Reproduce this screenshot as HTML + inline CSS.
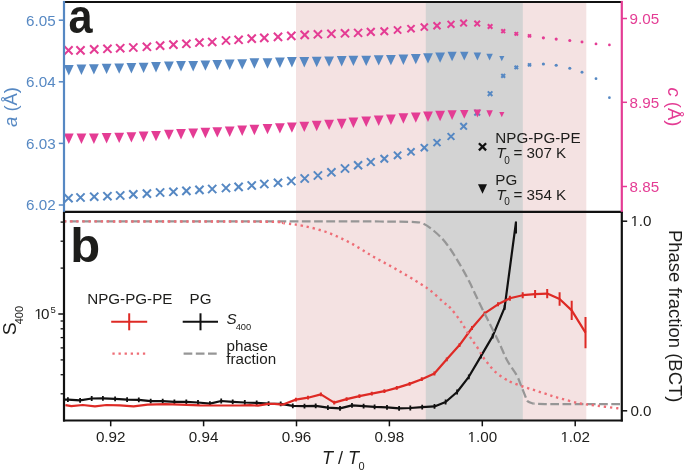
<!DOCTYPE html>
<html><head><meta charset="utf-8"><title>Lattice parameters and S400 vs T/T0</title>
<style>
html,body{margin:0;padding:0;background:#fff;}
body{width:685px;height:471px;overflow:hidden;}
svg{display:block;font-family:"Liberation Sans",sans-serif;will-change:transform;}
</style></head><body>
<svg width="685" height="471" viewBox="0 0 685 471">
<defs>
<clipPath id="ca"><rect x="64.0" y="1.9" width="557.8" height="210.0"/></clipPath>
<clipPath id="cb"><rect x="64.0" y="211.9" width="557.8" height="208.6"/></clipPath>
</defs>
<rect x="296" y="1.9" width="290.3" height="418.6" fill="#f4e2e2"/>
<rect x="425.8" y="1.9" width="97" height="418.6" fill="#d3d3d3"/>
<g clip-path="url(#ca)">
<path d="M64.40 46.30L72.60 54.50M64.40 54.50L72.60 46.30" stroke="#e43c94" stroke-width="2.05" fill="none"/>
<path d="M76.40 46.30L84.60 54.50M76.40 54.50L84.60 46.30" stroke="#e43c94" stroke-width="2.05" fill="none"/>
<path d="M90.10 45.30L98.30 53.50M90.10 53.50L98.30 45.30" stroke="#e43c94" stroke-width="2.05" fill="none"/>
<path d="M103.35 44.70L111.55 52.90M103.35 52.90L111.55 44.70" stroke="#e43c94" stroke-width="2.05" fill="none"/>
<path d="M116.10 44.10L124.30 52.30M116.10 52.30L124.30 44.10" stroke="#e43c94" stroke-width="2.05" fill="none"/>
<path d="M129.20 43.40L137.40 51.60M129.20 51.60L137.40 43.40" stroke="#e43c94" stroke-width="2.05" fill="none"/>
<path d="M142.80 42.70L151.00 50.90M142.80 50.90L151.00 42.70" stroke="#e43c94" stroke-width="2.05" fill="none"/>
<path d="M156.00 41.50L164.20 49.70M156.00 49.70L164.20 41.50" stroke="#e43c94" stroke-width="2.05" fill="none"/>
<path d="M169.30 40.50L177.50 48.70M169.30 48.70L177.50 40.50" stroke="#e43c94" stroke-width="2.05" fill="none"/>
<path d="M182.30 39.70L190.50 47.90M182.30 47.90L190.50 39.70" stroke="#e43c94" stroke-width="2.05" fill="none"/>
<path d="M195.35 38.45L203.55 46.65M195.35 46.65L203.55 38.45" stroke="#e43c94" stroke-width="2.05" fill="none"/>
<path d="M208.10 37.85L216.30 46.05M208.10 46.05L216.30 37.85" stroke="#e43c94" stroke-width="2.05" fill="none"/>
<path d="M221.90 36.40L230.10 44.60M221.90 44.60L230.10 36.40" stroke="#e43c94" stroke-width="2.05" fill="none"/>
<path d="M234.50 35.70L242.70 43.90M234.50 43.90L242.70 35.70" stroke="#e43c94" stroke-width="2.05" fill="none"/>
<path d="M247.60 34.50L255.80 42.70M247.60 42.70L255.80 34.50" stroke="#e43c94" stroke-width="2.05" fill="none"/>
<path d="M260.20 33.80L268.40 42.00M260.20 42.00L268.40 33.80" stroke="#e43c94" stroke-width="2.05" fill="none"/>
<path d="M273.90 32.80L282.10 41.00M273.90 41.00L282.10 32.80" stroke="#e43c94" stroke-width="2.05" fill="none"/>
<path d="M287.20 31.80L295.40 40.00M287.20 40.00L295.40 31.80" stroke="#e43c94" stroke-width="2.05" fill="none"/>
<path d="M300.60 30.80L308.80 39.00M300.60 39.00L308.80 30.80" stroke="#e43c94" stroke-width="2.05" fill="none"/>
<path d="M313.80 30.20L322.00 38.40M313.80 38.40L322.00 30.20" stroke="#e43c94" stroke-width="2.05" fill="none"/>
<path d="M327.30 29.70L335.50 37.90M327.30 37.90L335.50 29.70" stroke="#e43c94" stroke-width="2.05" fill="none"/>
<path d="M340.90 29.20L349.10 37.40M340.90 37.40L349.10 29.20" stroke="#e43c94" stroke-width="2.05" fill="none"/>
<path d="M354.10 28.90L362.10 36.90M354.10 36.90L362.10 28.90" stroke="#e43c94" stroke-width="2.05" fill="none"/>
<path d="M366.90 28.00L374.70 35.80M366.90 35.80L374.70 28.00" stroke="#e43c94" stroke-width="2.05" fill="none"/>
<path d="M380.55 27.45L388.05 34.95M380.55 34.95L388.05 27.45" stroke="#e43c94" stroke-width="2.05" fill="none"/>
<path d="M393.95 26.35L401.25 33.65M393.95 33.65L401.25 26.35" stroke="#e43c94" stroke-width="2.05" fill="none"/>
<path d="M407.40 25.10L414.60 32.30M407.40 32.30L414.60 25.10" stroke="#e43c94" stroke-width="2.05" fill="none"/>
<path d="M420.75 23.55L427.85 30.65M420.75 30.65L427.85 23.55" stroke="#e43c94" stroke-width="2.05" fill="none"/>
<path d="M433.50 22.30L440.50 29.30M433.50 29.30L440.50 22.30" stroke="#e43c94" stroke-width="2.05" fill="none"/>
<path d="M447.60 20.90L454.40 27.70M447.60 27.70L454.40 20.90" stroke="#e43c94" stroke-width="2.05" fill="none"/>
<path d="M460.30 19.80L466.90 26.40M460.30 26.40L466.90 19.80" stroke="#e43c94" stroke-width="2.05" fill="none"/>
<path d="M474.40 20.80L480.00 26.40M474.40 26.40L480.00 20.80" stroke="#e43c94" stroke-width="2.05" fill="none"/>
<path d="M487.80 24.20L492.40 28.80M487.80 28.80L492.40 24.20" stroke="#e43c94" stroke-width="2.05" fill="none"/>
<path d="M501.30 29.30L505.10 33.10M501.30 33.10L505.10 29.30" stroke="#e43c94" stroke-width="2.05" fill="none"/>
<path d="M514.60 32.10L518.00 35.50M514.60 35.50L518.00 32.10" stroke="#e43c94" stroke-width="2.05" fill="none"/>
<path d="M528.00 34.40L531.00 37.40M528.00 37.40L531.00 34.40" stroke="#e43c94" stroke-width="2.05" fill="none"/>
<circle cx="543.40" cy="37.80" r="1.59" fill="#e43c94"/>
<circle cx="556.20" cy="39.10" r="1.57" fill="#e43c94"/>
<circle cx="569.80" cy="40.50" r="1.53" fill="#e43c94"/>
<circle cx="582.00" cy="42.00" r="1.47" fill="#e43c94"/>
<circle cx="596.00" cy="43.90" r="1.41" fill="#e43c94"/>
<circle cx="609.40" cy="44.90" r="1.35" fill="#e43c94"/>
<path d="M63.90 65.10L73.70 65.10L68.80 75.50Z" fill="#5688c3"/>
<path d="M76.55 64.55L86.35 64.55L81.45 74.95Z" fill="#5688c3"/>
<path d="M89.00 64.20L98.80 64.20L93.90 74.60Z" fill="#5688c3"/>
<path d="M101.70 63.70L111.50 63.70L106.60 74.10Z" fill="#5688c3"/>
<path d="M114.30 63.40L124.10 63.40L119.20 73.80Z" fill="#5688c3"/>
<path d="M126.50 63.10L136.30 63.10L131.40 73.50Z" fill="#5688c3"/>
<path d="M138.70 62.70L148.50 62.70L143.60 73.10Z" fill="#5688c3"/>
<path d="M151.10 62.00L160.90 62.00L156.00 72.40Z" fill="#5688c3"/>
<path d="M164.00 61.40L173.80 61.40L168.90 71.80Z" fill="#5688c3"/>
<path d="M176.10 61.10L185.90 61.10L181.00 71.50Z" fill="#5688c3"/>
<path d="M188.30 61.00L198.10 61.00L193.20 71.40Z" fill="#5688c3"/>
<path d="M200.50 60.40L210.30 60.40L205.40 70.80Z" fill="#5688c3"/>
<path d="M212.40 59.90L222.20 59.90L217.30 70.30Z" fill="#5688c3"/>
<path d="M224.80 59.60L234.60 59.60L229.70 70.00Z" fill="#5688c3"/>
<path d="M237.30 59.20L247.10 59.20L242.20 69.60Z" fill="#5688c3"/>
<path d="M249.50 58.30L259.30 58.30L254.40 68.70Z" fill="#5688c3"/>
<path d="M262.60 58.30L272.40 58.30L267.50 68.70Z" fill="#5688c3"/>
<path d="M275.00 57.50L284.80 57.50L279.90 67.90Z" fill="#5688c3"/>
<path d="M287.00 57.10L296.80 57.10L291.90 67.50Z" fill="#5688c3"/>
<path d="M299.40 57.10L309.20 57.10L304.30 67.50Z" fill="#5688c3"/>
<path d="M311.80 56.80L321.60 56.80L316.70 67.20Z" fill="#5688c3"/>
<path d="M324.20 56.40L334.00 56.40L329.10 66.80Z" fill="#5688c3"/>
<path d="M336.80 56.10L346.60 56.10L341.70 66.50Z" fill="#5688c3"/>
<path d="M348.50 55.70L358.30 55.70L353.40 66.10Z" fill="#5688c3"/>
<path d="M361.30 55.70L371.10 55.70L366.20 66.10Z" fill="#5688c3"/>
<path d="M373.80 55.20L383.60 55.20L378.70 65.60Z" fill="#5688c3"/>
<path d="M386.00 54.90L395.80 54.90L390.90 65.30Z" fill="#5688c3"/>
<path d="M398.50 54.50L408.30 54.50L403.40 64.90Z" fill="#5688c3"/>
<path d="M410.90 53.90L420.70 53.90L415.80 64.30Z" fill="#5688c3"/>
<path d="M423.10 53.20L432.90 53.20L428.00 63.60Z" fill="#5688c3"/>
<path d="M435.20 52.40L445.00 52.40L440.10 62.80Z" fill="#5688c3"/>
<path d="M447.54 51.66L456.66 51.66L452.10 61.34Z" fill="#5688c3"/>
<path d="M460.09 51.63L468.51 51.63L464.30 60.57Z" fill="#5688c3"/>
<path d="M473.63 52.40L481.17 52.40L477.40 60.40Z" fill="#5688c3"/>
<path d="M486.37 53.67L492.83 53.67L489.60 60.53Z" fill="#5688c3"/>
<path d="M499.25 55.90L504.35 55.90L501.80 61.30Z" fill="#5688c3"/>
<path d="M64.40 194.10L72.60 202.30M64.40 202.30L72.60 194.10" stroke="#5688c3" stroke-width="2.05" fill="none"/>
<path d="M76.40 193.40L84.60 201.60M76.40 201.60L84.60 193.40" stroke="#5688c3" stroke-width="2.05" fill="none"/>
<path d="M90.10 192.60L98.30 200.80M90.10 200.80L98.30 192.60" stroke="#5688c3" stroke-width="2.05" fill="none"/>
<path d="M103.35 192.10L111.55 200.30M103.35 200.30L111.55 192.10" stroke="#5688c3" stroke-width="2.05" fill="none"/>
<path d="M116.10 191.40L124.30 199.60M116.10 199.60L124.30 191.40" stroke="#5688c3" stroke-width="2.05" fill="none"/>
<path d="M129.20 190.30L137.40 198.50M129.20 198.50L137.40 190.30" stroke="#5688c3" stroke-width="2.05" fill="none"/>
<path d="M142.80 189.50L151.00 197.70M142.80 197.70L151.00 189.50" stroke="#5688c3" stroke-width="2.05" fill="none"/>
<path d="M156.00 188.40L164.20 196.60M156.00 196.60L164.20 188.40" stroke="#5688c3" stroke-width="2.05" fill="none"/>
<path d="M169.30 187.70L177.50 195.90M169.30 195.90L177.50 187.70" stroke="#5688c3" stroke-width="2.05" fill="none"/>
<path d="M182.30 186.80L190.50 195.00M182.30 195.00L190.50 186.80" stroke="#5688c3" stroke-width="2.05" fill="none"/>
<path d="M195.35 185.80L203.55 194.00M195.35 194.00L203.55 185.80" stroke="#5688c3" stroke-width="2.05" fill="none"/>
<path d="M208.10 184.90L216.30 193.10M208.10 193.10L216.30 184.90" stroke="#5688c3" stroke-width="2.05" fill="none"/>
<path d="M221.90 183.90L230.10 192.10M221.90 192.10L230.10 183.90" stroke="#5688c3" stroke-width="2.05" fill="none"/>
<path d="M234.50 182.80L242.70 191.00M234.50 191.00L242.70 182.80" stroke="#5688c3" stroke-width="2.05" fill="none"/>
<path d="M247.60 181.40L255.80 189.60M247.60 189.60L255.80 181.40" stroke="#5688c3" stroke-width="2.05" fill="none"/>
<path d="M260.20 179.90L268.40 188.10M260.20 188.10L268.40 179.90" stroke="#5688c3" stroke-width="2.05" fill="none"/>
<path d="M273.90 178.70L282.10 186.90M273.90 186.90L282.10 178.70" stroke="#5688c3" stroke-width="2.05" fill="none"/>
<path d="M287.20 176.90L295.40 185.10M287.20 185.10L295.40 176.90" stroke="#5688c3" stroke-width="2.05" fill="none"/>
<path d="M300.60 174.40L308.80 182.60M300.60 182.60L308.80 174.40" stroke="#5688c3" stroke-width="2.05" fill="none"/>
<path d="M313.80 171.40L322.00 179.60M313.80 179.60L322.00 171.40" stroke="#5688c3" stroke-width="2.05" fill="none"/>
<path d="M327.30 168.20L335.50 176.40M327.30 176.40L335.50 168.20" stroke="#5688c3" stroke-width="2.05" fill="none"/>
<path d="M340.90 164.40L349.10 172.60M340.90 172.60L349.10 164.40" stroke="#5688c3" stroke-width="2.05" fill="none"/>
<path d="M354.10 161.30L362.10 169.30M354.10 169.30L362.10 161.30" stroke="#5688c3" stroke-width="2.05" fill="none"/>
<path d="M366.90 158.10L374.70 165.90M366.90 165.90L374.70 158.10" stroke="#5688c3" stroke-width="2.05" fill="none"/>
<path d="M380.55 154.95L388.05 162.45M380.55 162.45L388.05 154.95" stroke="#5688c3" stroke-width="2.05" fill="none"/>
<path d="M393.95 151.65L401.25 158.95M393.95 158.95L401.25 151.65" stroke="#5688c3" stroke-width="2.05" fill="none"/>
<path d="M407.40 148.20L414.60 155.40M407.40 155.40L414.60 148.20" stroke="#5688c3" stroke-width="2.05" fill="none"/>
<path d="M420.75 144.15L427.85 151.25M420.75 151.25L427.85 144.15" stroke="#5688c3" stroke-width="2.05" fill="none"/>
<path d="M433.50 139.10L440.50 146.10M433.50 146.10L440.50 139.10" stroke="#5688c3" stroke-width="2.05" fill="none"/>
<path d="M447.60 133.10L454.40 139.90M447.60 139.90L454.40 133.10" stroke="#5688c3" stroke-width="2.05" fill="none"/>
<path d="M460.30 123.00L466.90 129.60M460.30 129.60L466.90 123.00" stroke="#5688c3" stroke-width="2.05" fill="none"/>
<path d="M474.40 109.90L480.00 115.50M474.40 115.50L480.00 109.90" stroke="#5688c3" stroke-width="2.05" fill="none"/>
<path d="M487.80 91.40L492.40 96.00M487.80 96.00L492.40 91.40" stroke="#5688c3" stroke-width="2.05" fill="none"/>
<path d="M501.30 74.00L505.10 77.80M501.30 77.80L505.10 74.00" stroke="#5688c3" stroke-width="2.05" fill="none"/>
<path d="M514.60 65.70L518.00 69.10M514.60 69.10L518.00 65.70" stroke="#5688c3" stroke-width="2.05" fill="none"/>
<path d="M528.00 63.40L531.00 66.40M528.00 66.40L531.00 63.40" stroke="#5688c3" stroke-width="2.05" fill="none"/>
<circle cx="543.40" cy="64.00" r="1.59" fill="#5688c3"/>
<circle cx="556.20" cy="65.30" r="1.57" fill="#5688c3"/>
<circle cx="569.80" cy="68.20" r="1.53" fill="#5688c3"/>
<circle cx="582.00" cy="72.20" r="1.47" fill="#5688c3"/>
<circle cx="596.00" cy="78.70" r="1.41" fill="#5688c3"/>
<circle cx="609.40" cy="97.70" r="1.35" fill="#5688c3"/>
<path d="M63.90 133.60L73.70 133.60L68.80 144.00Z" fill="#e43c94"/>
<path d="M76.55 133.60L86.35 133.60L81.45 144.00Z" fill="#e43c94"/>
<path d="M89.00 133.60L98.80 133.60L93.90 144.00Z" fill="#e43c94"/>
<path d="M101.70 133.10L111.50 133.10L106.60 143.50Z" fill="#e43c94"/>
<path d="M114.30 132.70L124.10 132.70L119.20 143.10Z" fill="#e43c94"/>
<path d="M126.50 132.20L136.30 132.20L131.40 142.60Z" fill="#e43c94"/>
<path d="M138.70 131.50L148.50 131.50L143.60 141.90Z" fill="#e43c94"/>
<path d="M151.10 130.90L160.90 130.90L156.00 141.30Z" fill="#e43c94"/>
<path d="M164.00 129.70L173.80 129.70L168.90 140.10Z" fill="#e43c94"/>
<path d="M176.10 129.10L185.90 129.10L181.00 139.50Z" fill="#e43c94"/>
<path d="M188.30 128.40L198.10 128.40L193.20 138.80Z" fill="#e43c94"/>
<path d="M200.50 127.80L210.30 127.80L205.40 138.20Z" fill="#e43c94"/>
<path d="M212.40 127.20L222.20 127.20L217.30 137.60Z" fill="#e43c94"/>
<path d="M224.80 126.50L234.60 126.50L229.70 136.90Z" fill="#e43c94"/>
<path d="M237.30 125.50L247.10 125.50L242.20 135.90Z" fill="#e43c94"/>
<path d="M249.50 124.85L259.30 124.85L254.40 135.25Z" fill="#e43c94"/>
<path d="M262.60 123.90L272.40 123.90L267.50 134.30Z" fill="#e43c94"/>
<path d="M275.00 123.20L284.80 123.20L279.90 133.60Z" fill="#e43c94"/>
<path d="M287.00 122.40L296.80 122.40L291.90 132.80Z" fill="#e43c94"/>
<path d="M299.40 121.70L309.20 121.70L304.30 132.10Z" fill="#e43c94"/>
<path d="M311.80 120.80L321.60 120.80L316.70 131.20Z" fill="#e43c94"/>
<path d="M324.20 119.70L334.00 119.70L329.10 130.10Z" fill="#e43c94"/>
<path d="M336.80 118.80L346.60 118.80L341.70 129.20Z" fill="#e43c94"/>
<path d="M348.50 117.60L358.30 117.60L353.40 128.00Z" fill="#e43c94"/>
<path d="M361.30 116.60L371.10 116.60L366.20 127.00Z" fill="#e43c94"/>
<path d="M373.80 115.60L383.60 115.60L378.70 126.00Z" fill="#e43c94"/>
<path d="M386.00 114.60L395.80 114.60L390.90 125.00Z" fill="#e43c94"/>
<path d="M398.50 113.30L408.30 113.30L403.40 123.70Z" fill="#e43c94"/>
<path d="M410.90 112.40L420.70 112.40L415.80 122.80Z" fill="#e43c94"/>
<path d="M423.10 111.50L432.90 111.50L428.00 121.90Z" fill="#e43c94"/>
<path d="M435.20 110.85L445.00 110.85L440.10 121.25Z" fill="#e43c94"/>
<path d="M447.54 110.26L456.66 110.26L452.10 119.94Z" fill="#e43c94"/>
<path d="M460.09 109.93L468.51 109.93L464.30 118.87Z" fill="#e43c94"/>
<path d="M473.63 109.60L481.17 109.60L477.40 117.60Z" fill="#e43c94"/>
<path d="M486.37 110.37L492.83 110.37L489.60 117.23Z" fill="#e43c94"/>
<path d="M499.25 111.90L504.35 111.90L501.80 117.30Z" fill="#e43c94"/>
</g>
<path d="M478.90 143.20L486.10 150.40M478.90 150.40L486.10 143.20" stroke="#111111" stroke-width="2.3" fill="none"/>
<path d="M477.99 184.22L487.01 184.22L482.50 193.78Z" fill="#111111"/>
<text transform="translate(495.3,142.7) scale(1.0,1.0)" font-size="15.2" fill="#1d1d1b">NPG-PG-PE</text>
<text transform="translate(496.2,158.1) scale(1.0,1.0)" font-size="15.2" fill="#1d1d1b"><tspan font-style="italic">T</tspan></text>
<text transform="translate(504.3,163.5) scale(1.0,1.0)" font-size="10" fill="#1d1d1b">0</text>
<text transform="translate(513.4,158.1) scale(1.0,1.0)" font-size="15.2" fill="#1d1d1b">= 307 K</text>
<text transform="translate(495.3,185.2) scale(1.0,1.0)" font-size="15.2" fill="#1d1d1b">PG</text>
<text transform="translate(496.2,200.1) scale(1.0,1.0)" font-size="15.2" fill="#1d1d1b"><tspan font-style="italic">T</tspan></text>
<text transform="translate(504.3,205.4) scale(1.0,1.0)" font-size="10" fill="#1d1d1b">0</text>
<text transform="translate(513.4,200.1) scale(1.0,1.0)" font-size="15.2" fill="#1d1d1b">= 354 K</text>
<g clip-path="url(#cb)">
<polyline points="56.0,399.3 67.9,399.7 80.1,400.3 91.7,398.5 102.9,398.3 115.1,398.9 127.1,399.7 138.8,399.9 150.7,401.1 162.7,401.1 174.4,401.8 186.3,401.8 198.0,402.5 209.9,403.6 221.2,401.0 232.7,401.8 244.8,402.5 256.7,402.9 268.6,403.7 280.7,403.9 292.8,405.9 304.5,406.1 315.7,405.9 327.9,407.7 340.0,408.4 352.0,405.4 363.6,406.1 374.6,406.8 387.0,407.3 399.1,408.4 410.3,408.0 422.2,407.2 434.5,406.4 445.6,402.0 457.1,392.0 468.8,376.8 481.0,356.1 492.7,336.1 504.6,307.6 516.0,222.0" stroke="#111111" stroke-width="2.2" fill="none" stroke-linejoin="round"/>
<line x1="67.9" y1="397.3" x2="67.9" y2="402.1" stroke="#111111" stroke-width="1.8"/>
<line x1="80.1" y1="397.9" x2="80.1" y2="402.7" stroke="#111111" stroke-width="1.8"/>
<line x1="91.7" y1="396.1" x2="91.7" y2="400.9" stroke="#111111" stroke-width="1.8"/>
<line x1="102.9" y1="395.9" x2="102.9" y2="400.7" stroke="#111111" stroke-width="1.8"/>
<line x1="115.1" y1="396.5" x2="115.1" y2="401.3" stroke="#111111" stroke-width="1.8"/>
<line x1="127.1" y1="397.3" x2="127.1" y2="402.1" stroke="#111111" stroke-width="1.8"/>
<line x1="138.8" y1="397.5" x2="138.8" y2="402.3" stroke="#111111" stroke-width="1.8"/>
<line x1="150.7" y1="398.7" x2="150.7" y2="403.5" stroke="#111111" stroke-width="1.8"/>
<line x1="162.7" y1="398.7" x2="162.7" y2="403.5" stroke="#111111" stroke-width="1.8"/>
<line x1="174.4" y1="399.4" x2="174.4" y2="404.2" stroke="#111111" stroke-width="1.8"/>
<line x1="186.3" y1="399.4" x2="186.3" y2="404.2" stroke="#111111" stroke-width="1.8"/>
<line x1="198.0" y1="400.1" x2="198.0" y2="404.9" stroke="#111111" stroke-width="1.8"/>
<line x1="209.9" y1="401.2" x2="209.9" y2="406.0" stroke="#111111" stroke-width="1.8"/>
<line x1="221.2" y1="398.6" x2="221.2" y2="403.4" stroke="#111111" stroke-width="1.8"/>
<line x1="232.7" y1="399.4" x2="232.7" y2="404.2" stroke="#111111" stroke-width="1.8"/>
<line x1="244.8" y1="400.1" x2="244.8" y2="404.9" stroke="#111111" stroke-width="1.8"/>
<line x1="256.7" y1="400.5" x2="256.7" y2="405.3" stroke="#111111" stroke-width="1.8"/>
<line x1="268.6" y1="401.3" x2="268.6" y2="406.1" stroke="#111111" stroke-width="1.8"/>
<line x1="280.7" y1="401.5" x2="280.7" y2="406.3" stroke="#111111" stroke-width="1.8"/>
<line x1="292.8" y1="403.5" x2="292.8" y2="408.3" stroke="#111111" stroke-width="1.8"/>
<line x1="304.5" y1="403.7" x2="304.5" y2="408.5" stroke="#111111" stroke-width="1.8"/>
<line x1="315.7" y1="403.5" x2="315.7" y2="408.3" stroke="#111111" stroke-width="1.8"/>
<line x1="327.9" y1="405.3" x2="327.9" y2="410.1" stroke="#111111" stroke-width="1.8"/>
<line x1="340.0" y1="406.0" x2="340.0" y2="410.8" stroke="#111111" stroke-width="1.8"/>
<line x1="352.0" y1="403.0" x2="352.0" y2="407.8" stroke="#111111" stroke-width="1.8"/>
<line x1="363.6" y1="403.7" x2="363.6" y2="408.5" stroke="#111111" stroke-width="1.8"/>
<line x1="374.6" y1="404.4" x2="374.6" y2="409.2" stroke="#111111" stroke-width="1.8"/>
<line x1="387.0" y1="404.9" x2="387.0" y2="409.7" stroke="#111111" stroke-width="1.8"/>
<line x1="399.1" y1="406.0" x2="399.1" y2="410.8" stroke="#111111" stroke-width="1.8"/>
<line x1="410.3" y1="405.6" x2="410.3" y2="410.4" stroke="#111111" stroke-width="1.8"/>
<line x1="422.2" y1="404.8" x2="422.2" y2="409.6" stroke="#111111" stroke-width="1.8"/>
<line x1="434.5" y1="404.0" x2="434.5" y2="408.8" stroke="#111111" stroke-width="1.8"/>
<line x1="445.6" y1="399.6" x2="445.6" y2="404.4" stroke="#111111" stroke-width="1.8"/>
<line x1="457.1" y1="389.6" x2="457.1" y2="394.4" stroke="#111111" stroke-width="1.8"/>
<line x1="468.8" y1="374.4" x2="468.8" y2="379.2" stroke="#111111" stroke-width="1.8"/>
<line x1="481.0" y1="353.7" x2="481.0" y2="358.5" stroke="#111111" stroke-width="1.8"/>
<line x1="492.7" y1="333.7" x2="492.7" y2="338.5" stroke="#111111" stroke-width="1.8"/>
<line x1="504.6" y1="305.2" x2="504.6" y2="310.0" stroke="#111111" stroke-width="1.8"/>
<line x1="516.0" y1="221.5" x2="516.0" y2="233.5" stroke="#111111" stroke-width="2"/>
<polyline points="65.4,405.2 71.4,406.1 82.8,405.0 95.0,406.3 106.4,405.0 120.0,405.3 133.6,406.3 147.6,404.6 165.1,404.2 180.0,404.6 200.0,405.4 220.0,405.5 240.0,405.5 250.0,405.1 257.9,405.6 268.4,403.8 274.5,403.8 282.4,404.7 295.9,399.6 308.0,397.7 320.9,394.4 334.2,402.6 346.6,399.1 359.4,396.1 371.8,393.7 384.4,391.2 396.8,387.9 409.6,383.9 421.8,379.2 434.4,373.5 446.8,359.3 459.5,345.1 472.0,328.0 484.6,313.4 498.0,304.3 509.9,298.3 522.7,295.2 535.1,294.1 547.2,293.6 559.6,299.0 571.7,310.4 585.5,332.6" stroke="#de2a25" stroke-width="2.2" fill="none" stroke-linejoin="round"/>
<line x1="295.9" y1="397.7" x2="295.9" y2="401.5" stroke="#de2a25" stroke-width="2"/>
<line x1="308.0" y1="395.8" x2="308.0" y2="399.6" stroke="#de2a25" stroke-width="2"/>
<line x1="320.9" y1="392.5" x2="320.9" y2="396.3" stroke="#de2a25" stroke-width="2"/>
<line x1="334.2" y1="400.7" x2="334.2" y2="404.5" stroke="#de2a25" stroke-width="2"/>
<line x1="346.6" y1="397.2" x2="346.6" y2="401.0" stroke="#de2a25" stroke-width="2"/>
<line x1="359.4" y1="394.2" x2="359.4" y2="398.0" stroke="#de2a25" stroke-width="2"/>
<line x1="371.8" y1="391.8" x2="371.8" y2="395.6" stroke="#de2a25" stroke-width="2"/>
<line x1="384.4" y1="389.3" x2="384.4" y2="393.1" stroke="#de2a25" stroke-width="2"/>
<line x1="396.8" y1="386.0" x2="396.8" y2="389.8" stroke="#de2a25" stroke-width="2"/>
<line x1="409.6" y1="382.0" x2="409.6" y2="385.8" stroke="#de2a25" stroke-width="2"/>
<line x1="421.8" y1="377.3" x2="421.8" y2="381.1" stroke="#de2a25" stroke-width="2"/>
<line x1="434.4" y1="371.6" x2="434.4" y2="375.4" stroke="#de2a25" stroke-width="2"/>
<line x1="446.8" y1="357.4" x2="446.8" y2="361.2" stroke="#de2a25" stroke-width="2"/>
<line x1="459.5" y1="343.2" x2="459.5" y2="347.0" stroke="#de2a25" stroke-width="2"/>
<line x1="472.0" y1="326.1" x2="472.0" y2="329.9" stroke="#de2a25" stroke-width="2"/>
<line x1="484.6" y1="311.5" x2="484.6" y2="315.3" stroke="#de2a25" stroke-width="2"/>
<line x1="498.0" y1="302.3" x2="498.0" y2="306.3" stroke="#de2a25" stroke-width="2"/>
<line x1="509.9" y1="295.8" x2="509.9" y2="300.8" stroke="#de2a25" stroke-width="2"/>
<line x1="522.7" y1="292.2" x2="522.7" y2="298.2" stroke="#de2a25" stroke-width="2"/>
<line x1="535.1" y1="290.1" x2="535.1" y2="298.1" stroke="#de2a25" stroke-width="2"/>
<line x1="547.2" y1="289.0" x2="547.2" y2="298.2" stroke="#de2a25" stroke-width="2"/>
<line x1="559.6" y1="292.2" x2="559.6" y2="305.8" stroke="#de2a25" stroke-width="2"/>
<line x1="571.7" y1="300.7" x2="571.7" y2="320.1" stroke="#de2a25" stroke-width="2"/>
<line x1="585.5" y1="317.0" x2="585.5" y2="348.2" stroke="#de2a25" stroke-width="2"/>
<path d="M65.00 221.30C104.17 221.30 247.50 221.27 300.00 221.30C352.50 221.33 361.53 221.40 380.00 221.50C398.47 221.60 403.72 221.60 410.80 221.90C417.88 222.20 418.63 221.78 422.50 223.30C426.37 224.82 430.13 227.77 434.00 231.00C437.87 234.23 441.82 237.85 445.70 242.70C449.58 247.55 453.42 253.70 457.30 260.10C461.18 266.50 465.30 273.90 469.00 281.10C472.70 288.30 476.00 296.12 479.50 303.30C483.00 310.48 486.70 317.58 490.00 324.20C493.30 330.82 496.43 336.95 499.30 343.00C502.17 349.05 504.32 355.17 507.20 360.50C510.08 365.83 514.30 370.85 516.60 375.00C518.90 379.15 519.53 381.82 521.00 385.40C522.47 388.98 524.27 393.85 525.40 396.50C526.53 399.15 526.48 400.12 527.80 401.30C529.12 402.48 532.38 403.22 533.30 403.60" stroke="#969696" stroke-width="2.25" fill="none" stroke-dasharray="8.7 3.5" stroke-dashoffset="7.2"/>
<path d="M533.3 403.6L545 404L625 404" stroke="#969696" stroke-width="2.25" fill="none" stroke-dasharray="8.7 3.5" stroke-dashoffset="7.4"/>
<path d="M65.00 221.40C97.50 221.45 223.38 221.38 260.00 221.70C296.62 222.02 277.47 222.60 284.70 223.30C291.93 224.00 296.40 224.42 303.40 225.90C310.40 227.38 318.93 229.40 326.70 232.20C334.47 235.00 342.22 238.62 350.00 242.70C357.78 246.78 365.60 252.22 373.40 256.70C381.20 261.18 389.00 265.12 396.80 269.60C404.60 274.08 414.38 279.93 420.20 283.60C426.02 287.27 427.85 288.52 431.70 291.60C435.55 294.68 440.25 299.43 443.30 302.10C446.35 304.77 447.12 304.42 450.00 307.60C452.88 310.78 457.23 316.27 460.60 321.20C463.97 326.13 467.37 332.77 470.20 337.20C473.03 341.63 475.47 344.50 477.60 347.80C479.73 351.10 481.23 354.35 483.00 357.00C484.77 359.65 486.10 361.17 488.20 363.70C490.30 366.23 492.77 369.65 495.60 372.20C498.43 374.75 502.63 377.35 505.20 379.00C507.77 380.65 508.08 380.85 511.00 382.10C513.92 383.35 518.78 385.15 522.70 386.50C526.62 387.85 530.63 388.97 534.50 390.20C538.37 391.43 542.07 392.67 545.90 393.90C549.73 395.13 551.97 396.05 557.50 397.60C563.03 399.15 572.52 401.85 579.10 403.20C585.68 404.55 590.62 404.85 597.00 405.70C603.38 406.55 612.73 407.72 617.40 408.30C622.07 408.88 623.73 409.05 625.00 409.20" stroke="#ee6d76" stroke-width="2.4" fill="none" stroke-dasharray="2.3 3.8" stroke-dashoffset="0.75"/>
</g>
<text transform="translate(87.2,303.6) scale(1.0,1.0)" font-size="15.2" fill="#1d1d1b">NPG-PG-PE</text>
<text transform="translate(189.6,303.6) scale(1.0,1.0)" font-size="15.2" fill="#1d1d1b">PG</text>
<line x1="111.2" y1="321.7" x2="147.2" y2="321.7" stroke="#de2a25" stroke-width="2"/>
<line x1="129.2" y1="313.3" x2="129.2" y2="330.3" stroke="#de2a25" stroke-width="2"/>
<line x1="182.7" y1="321.7" x2="218" y2="321.7" stroke="#111111" stroke-width="2"/>
<line x1="200.5" y1="313.3" x2="200.5" y2="330.3" stroke="#111111" stroke-width="2"/>
<line x1="112.4" y1="353.6" x2="148.4" y2="353.6" stroke="#ee6d76" stroke-width="2.4" stroke-dasharray="2.3 3.8"/>
<line x1="183.6" y1="353.6" x2="217" y2="353.6" stroke="#969696" stroke-width="2.25" stroke-dasharray="8.7 3.5"/>
<text transform="translate(226.6,324.4) scale(1.0,1.0)" font-size="15.2" fill="#1d1d1b"><tspan font-style="italic">S</tspan></text>
<text transform="translate(235.7,329.9) scale(1.0,1.0)" font-size="9.3" fill="#1d1d1b">400</text>
<text transform="translate(226.5,350.5) scale(1.0,1.0)" font-size="15.2" fill="#1d1d1b">phase</text>
<text transform="translate(226.3,364.0) scale(1.0,1.0)" font-size="15.2" fill="#1d1d1b">fraction</text>
<text transform="translate(68.6,32.6) scale(0.9,1.0)" font-size="48" fill="#1d1d1b" font-weight="bold">a</text>
<text transform="translate(70.3,262.0) scale(1.0,1.0)" font-size="49" fill="#1d1d1b" font-weight="bold">b</text>
<line x1="64.0" y1="1.9" x2="621.8" y2="1.9" stroke="#111111" stroke-width="2"/>
<line x1="63.0" y1="211.9" x2="622.8" y2="211.9" stroke="#111111" stroke-width="2.2"/>
<line x1="63.0" y1="420.5" x2="622.8" y2="420.5" stroke="#111111" stroke-width="2.2"/>
<line x1="64.0" y1="0.8999999999999999" x2="64.0" y2="211.9" stroke="#5688c3" stroke-width="2.2"/>
<line x1="621.8" y1="0.8999999999999999" x2="621.8" y2="211.9" stroke="#e43c94" stroke-width="2.2"/>
<line x1="64.0" y1="211.9" x2="64.0" y2="421.5" stroke="#111111" stroke-width="2.2"/>
<line x1="621.8" y1="211.9" x2="621.8" y2="421.5" stroke="#111111" stroke-width="2.2"/>
<line x1="58.8" y1="20.2" x2="64.0" y2="20.2" stroke="#5688c3" stroke-width="1.5"/>
<text transform="translate(55.6,25.6) scale(1.0,1.0)" font-size="15.2" fill="#5688c3" text-anchor="end">6.05</text>
<line x1="58.8" y1="81.8" x2="64.0" y2="81.8" stroke="#5688c3" stroke-width="1.5"/>
<text transform="translate(55.6,87.2) scale(1.0,1.0)" font-size="15.2" fill="#5688c3" text-anchor="end">6.04</text>
<line x1="58.8" y1="143.4" x2="64.0" y2="143.4" stroke="#5688c3" stroke-width="1.5"/>
<text transform="translate(55.6,148.8) scale(1.0,1.0)" font-size="15.2" fill="#5688c3" text-anchor="end">6.03</text>
<line x1="58.8" y1="205.0" x2="64.0" y2="205.0" stroke="#5688c3" stroke-width="1.5"/>
<text transform="translate(55.6,210.4) scale(1.0,1.0)" font-size="15.2" fill="#5688c3" text-anchor="end">6.02</text>
<line x1="621.8" y1="18.5" x2="627" y2="18.5" stroke="#e43c94" stroke-width="1.5"/>
<text transform="translate(629.6,23.9) scale(1.0,1.0)" font-size="15.2" fill="#e43c94">9.05</text>
<line x1="621.8" y1="102.3" x2="627" y2="102.3" stroke="#e43c94" stroke-width="1.5"/>
<text transform="translate(629.6,107.7) scale(1.0,1.0)" font-size="15.2" fill="#e43c94">8.95</text>
<line x1="621.8" y1="186.5" x2="627" y2="186.5" stroke="#e43c94" stroke-width="1.5"/>
<text transform="translate(629.6,191.9) scale(1.0,1.0)" font-size="15.2" fill="#e43c94">8.85</text>
<line x1="58.3" y1="314.0" x2="64.0" y2="314.0" stroke="#111111" stroke-width="1.5"/>
<line x1="60.6" y1="268.1" x2="64.0" y2="268.1" stroke="#111111" stroke-width="1.3"/>
<line x1="60.6" y1="241.2" x2="64.0" y2="241.2" stroke="#111111" stroke-width="1.3"/>
<line x1="60.6" y1="222.1" x2="64.0" y2="222.1" stroke="#111111" stroke-width="1.3"/>
<line x1="60.6" y1="393.8" x2="64.0" y2="393.8" stroke="#111111" stroke-width="1.3"/>
<line x1="60.6" y1="374.7" x2="64.0" y2="374.7" stroke="#111111" stroke-width="1.3"/>
<line x1="60.6" y1="359.9" x2="64.0" y2="359.9" stroke="#111111" stroke-width="1.3"/>
<line x1="60.6" y1="347.9" x2="64.0" y2="347.9" stroke="#111111" stroke-width="1.3"/>
<line x1="60.6" y1="337.6" x2="64.0" y2="337.6" stroke="#111111" stroke-width="1.3"/>
<line x1="60.6" y1="328.8" x2="64.0" y2="328.8" stroke="#111111" stroke-width="1.3"/>
<line x1="60.6" y1="321.0" x2="64.0" y2="321.0" stroke="#111111" stroke-width="1.3"/>
<text transform="translate(34.3,318.7) scale(1.0,1.0)" font-size="15.2" fill="#1d1d1b">1</text>
<text transform="translate(40.9,318.7) scale(1.0,1.0)" font-size="15.2" fill="#1d1d1b">0</text>
<text transform="translate(50.6,313.1) scale(1.0,1.0)" font-size="9.5" fill="#1d1d1b">5</text>
<line x1="621.8" y1="221.2" x2="627.2" y2="221.2" stroke="#111111" stroke-width="1.5"/>
<text transform="translate(630.4,226.4) scale(1.0,1.0)" font-size="15.2" fill="#1d1d1b">1.0</text>
<line x1="621.8" y1="410.8" x2="627.2" y2="410.8" stroke="#111111" stroke-width="1.5"/>
<text transform="translate(630.4,416.0) scale(1.0,1.0)" font-size="15.2" fill="#1d1d1b">0.0</text>
<line x1="110.7" y1="420.5" x2="110.7" y2="426.3" stroke="#111111" stroke-width="1.5"/>
<text transform="translate(110.7,442.3) scale(1.0,1.0)" font-size="15.2" fill="#1d1d1b" text-anchor="middle">0.92</text>
<line x1="203.6" y1="420.5" x2="203.6" y2="426.3" stroke="#111111" stroke-width="1.5"/>
<text transform="translate(203.6,442.3) scale(1.0,1.0)" font-size="15.2" fill="#1d1d1b" text-anchor="middle">0.94</text>
<line x1="296.5" y1="420.5" x2="296.5" y2="426.3" stroke="#111111" stroke-width="1.5"/>
<text transform="translate(296.5,442.3) scale(1.0,1.0)" font-size="15.2" fill="#1d1d1b" text-anchor="middle">0.96</text>
<line x1="389.4" y1="420.5" x2="389.4" y2="426.3" stroke="#111111" stroke-width="1.5"/>
<text transform="translate(389.4,442.3) scale(1.0,1.0)" font-size="15.2" fill="#1d1d1b" text-anchor="middle">0.98</text>
<line x1="482.3" y1="420.5" x2="482.3" y2="426.3" stroke="#111111" stroke-width="1.5"/>
<text transform="translate(482.3,442.3) scale(1.0,1.0)" font-size="15.2" fill="#1d1d1b" text-anchor="middle">1.00</text>
<line x1="575.2" y1="420.5" x2="575.2" y2="426.3" stroke="#111111" stroke-width="1.5"/>
<text transform="translate(575.2,442.3) scale(1.0,1.0)" font-size="15.2" fill="#1d1d1b" text-anchor="middle">1.02</text>
<rect x="630.70" y="224.91" width="3.51" height="2.74" fill="#fff"/>
<rect x="635.57" y="224.91" width="3.50" height="2.74" fill="#fff"/>
<rect x="467.81" y="440.81" width="3.51" height="2.74" fill="#fff"/>
<rect x="472.68" y="440.81" width="3.50" height="2.74" fill="#fff"/>
<rect x="560.71" y="440.81" width="3.51" height="2.74" fill="#fff"/>
<rect x="565.58" y="440.81" width="3.50" height="2.74" fill="#fff"/>
<rect x="34.60" y="317.21" width="3.51" height="2.74" fill="#fff"/>
<rect x="39.47" y="317.21" width="2.43" height="2.74" fill="#fff"/>
<text transform="translate(322.0,463.6) scale(1.0,1.0)" font-size="18" fill="#1d1d1b"><tspan font-style="italic">T</tspan> / <tspan font-style="italic">T</tspan></text>
<text transform="translate(358.6,470.2) scale(1.0,1.0)" font-size="11" fill="#1d1d1b">0</text>
<text transform="translate(17,107) rotate(-90) scale(1.027,1.0)" font-size="18" fill="#5688c3" text-anchor="middle"><tspan font-style="italic">a</tspan> (Å)</text>
<text transform="translate(667.8,107) rotate(90) scale(1.027,1.0)" font-size="18" fill="#e43c94" text-anchor="middle"><tspan font-style="italic">c</tspan> (Å)</text>
<text transform="translate(16.4,335.3) rotate(-90) scale(1.08,1.0)" font-size="18" fill="#1d1d1b">S</text>
<text transform="translate(22.6,324.3) rotate(-90) scale(1.0,1.0)" font-size="11" fill="#1d1d1b">400</text>
<text transform="translate(668.6,316.2) rotate(90) scale(1.027,1.0)" font-size="18" fill="#1d1d1b" text-anchor="middle">Phase fraction (BCT)</text>
</svg>
</body></html>
